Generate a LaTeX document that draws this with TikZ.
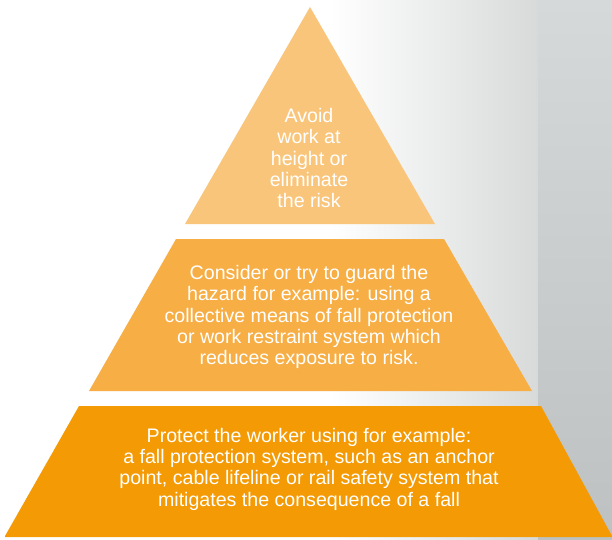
\documentclass[tikz,border=0pt]{standalone}
\usepackage{fontspec}
\setmainfont{Liberation Sans}
\definecolor{tierA}{HTML}{F9C57A}
\definecolor{tierB}{HTML}{F6AE45}
\definecolor{tierC}{HTML}{F39A05}
\definecolor{bgmid}{HTML}{D8DADA}
\definecolor{bgtop}{HTML}{D6D9D9}
\definecolor{bgbot}{HTML}{BDC1C1}
\begin{document}
\begin{tikzpicture}[x=1pt,y=-1pt,
  tiertext/.style={text=white,align=center,font=\fontsize{19.6}{21.3}\selectfont,inner sep=0pt}]
\useasboundingbox (0,0) rectangle (612,539);
% background
\fill[white] (0,0) rectangle (330,539);
\shade[left color=white,right color=bgmid] (330,0) rectangle (538,539);
\shade[top color=bgtop,bottom color=bgbot] (538,0) rectangle (612,539);
% tiers
\fill[tierA] (310,7) -- (435,224) -- (185,224) -- cycle;
\fill[tierB] (176,239) -- (444,239) -- (532,391) -- (89,391) -- cycle;
\fill[tierC] (79,406) -- (541,406) -- (612,536) -- (612,537) -- (5,537) -- (5,536) -- cycle;
% texts
\node[tiertext] (top) at (309,158) {Avoid\\work at\\height or\\eliminate\\the risk};
\node[tiertext] (mid) at (309,317) {Consider or try to guard the\\hazard for example: using a\\collective means of fall protection\\or work restraint system which\\reduces exposure to risk.};
\node[tiertext] (bot) at (309,469) {Protect the worker using for example:\\a fall protection system, such as an anchor\\point, cable lifeline or rail safety system that\\mitigates the consequence of a fall};
\end{tikzpicture}
\end{document}
